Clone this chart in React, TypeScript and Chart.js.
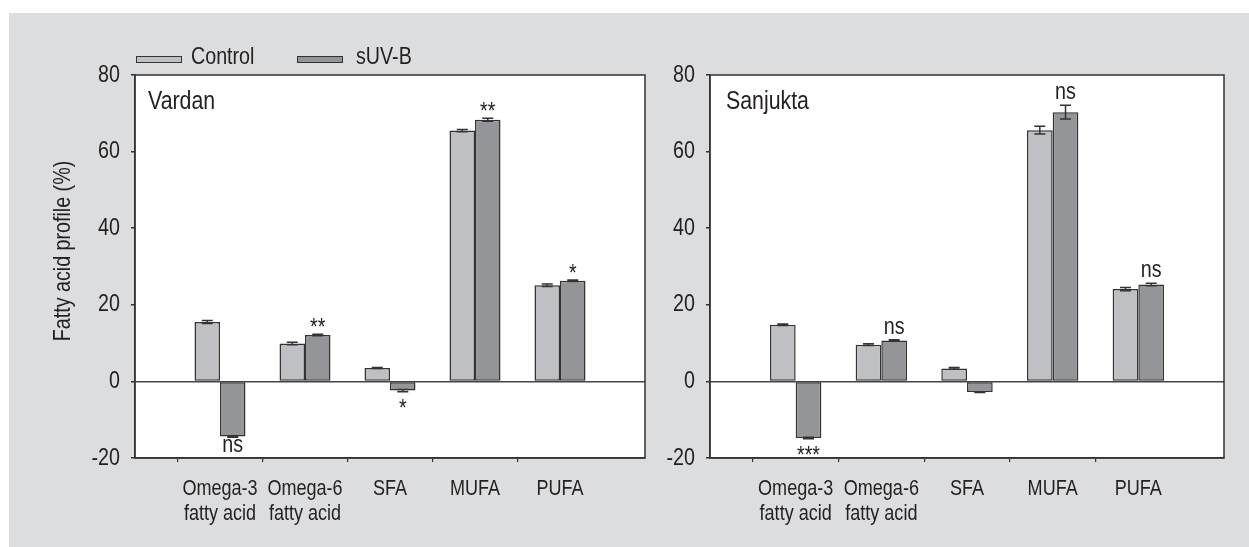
import { useEffect, useRef } from 'react';
import { Chart, registerables } from 'chart.js';

Chart.register(...registerables);

// Fatty acid classes on the x axis (first and last slots are empty padding slots)
const categories: (string | string[])[] = [
  ['Omega-3', 'fatty acid'],
  ['Omega-6', 'fatty acid'],
  'SFA',
  'MUFA',
  'PUFA',
];
const seriesNames = ['Control', 'sUV-B'];
const yTickValues = [-20, 0, 20, 40, 60, 80];
const yAxisTitle = 'Fatty acid profile (%)';

// Vardan
const vardanControl = [15.5, 9.9, 3.5, 65.5, 25.1];
const vardanControlErr = [0.4, 0.3, 0.1, 0.3, 0.3];
const vardanSuvb = [-14.4, 12.1, -2.4, 68.3, 26.3];
const vardanSuvbErr = [0.2, 0.2, 0.3, 0.4, 0.2];
const vardanMarks = ['ns', '**', '*', '**', '*'];
const vardanMarkSide = ['below', 'above', 'below', 'above', 'above'];

// Sanjukta
const sanjuktaControl = [14.8, 9.6, 3.4, 65.6, 24.1];
const sanjuktaControlErr = [0.2, 0.2, 0.2, 1.0, 0.4];
const sanjuktaSuvb = [-14.8, 10.7, -2.8, 70.3, 25.3];
const sanjuktaSuvbErr = [0.2, 0.2, 0.1, 1.8, 0.3];
const sanjuktaMarks = ['***', 'ns', '', 'ns', 'ns'];
const sanjuktaMarkSide = ['below', 'above', 'above', 'above', 'above'];

const FONT = "'Liberation Sans', Arial, Helvetica, sans-serif";
const CONDENSE = 0.82; // narrow lettering, like a condensed Helvetica
const INK = '#231f20';
const LINE = '#333333';
const CONTROL_FILL = '#bfc0c3';
const SUVB_FILL = '#939598';
const PANEL_BG = '#dcdddf';

type PanelSpec = {
  name: string;
  control: number[];
  controlErr: number[];
  suvb: number[];
  suvbErr: number[];
  marks: string[];
  markSide: string[];
  axisWidth: number;
  padRight: number;
  nameOffset: number;
  withLegend: boolean;
};

function pad<T>(arr: T[]): (T | null)[] {
  return [null, ...arr, null];
}

// Squeeze every text run horizontally so the whole figure uses narrow type.
const condensedText = {
  id: 'condensedText',
  beforeInit(chart: any) {
    const ctx = chart.ctx;
    if (!ctx || ctx.__condensed) return;
    const original = ctx.fillText.bind(ctx);
    ctx.fillText = (text: string, x: number, y: number, maxWidth?: number) => {
      const w = ctx.measureText(text).width * CONDENSE;
      const limit = maxWidth === undefined ? w : Math.min(maxWidth, w);
      if (limit > 0) original(text, x, y, limit);
    };
    ctx.__condensed = true;
  },
};

function makePanelPlugin(spec: PanelSpec) {
  return {
    id: 'panelDecor',
    beforeDraw(chart: any) {
      const { ctx, chartArea } = chart;
      ctx.save();
      ctx.fillStyle = '#ffffff';
      ctx.fillRect(chartArea.left, chartArea.top, chartArea.right - chartArea.left, chartArea.bottom - chartArea.top);
      ctx.restore();
    },
    afterDatasetsDraw(chart: any) {
      const { ctx, chartArea } = chart;
      const yScale = chart.scales.y;
      const errs = [spec.controlErr, spec.suvbErr];
      const vals = [spec.control, spec.suvb];

      // error bars
      ctx.save();
      ctx.strokeStyle = LINE;
      ctx.lineWidth = 1.5;
      for (let d = 0; d < 2; d++) {
        const meta = chart.getDatasetMeta(d);
        for (let i = 0; i < vals[d].length; i++) {
          const bar = meta.data[i + 1];
          const v = vals[d][i];
          const e = errs[d][i];
          const y1 = yScale.getPixelForValue(v - e);
          const y2 = yScale.getPixelForValue(v + e);
          const half = 5.5;
          ctx.beginPath();
          ctx.moveTo(bar.x, y1);
          ctx.lineTo(bar.x, y2);
          ctx.moveTo(bar.x - half, y1);
          ctx.lineTo(bar.x + half, y1);
          ctx.moveTo(bar.x - half, y2);
          ctx.lineTo(bar.x + half, y2);
          ctx.stroke();
        }
      }
      ctx.restore();

      // significance marks on the sUV-B bars
      ctx.save();
      ctx.fillStyle = INK;
      ctx.textAlign = 'center';
      ctx.textBaseline = 'alphabetic';
      ctx.font = `24px ${FONT}`;
      const meta = chart.getDatasetMeta(1);
      spec.marks.forEach((mark, i) => {
        if (!mark) return;
        const bar = meta.data[i + 1];
        const v = spec.suvb[i];
        const e = spec.suvbErr[i];
        const isStar = mark.includes('*');
        let y: number;
        if (spec.markSide[i] === 'above') {
          y = yScale.getPixelForValue(Math.max(v, 0) + e) + (isStar ? 1 : -6);
        } else {
          y = yScale.getPixelForValue(Math.min(v, 0) - e) + (isStar ? 24 : 15);
        }
        ctx.fillText(mark, bar.x, y);
      });
      ctx.restore();

      // plot frame
      ctx.save();
      ctx.strokeStyle = LINE;
      ctx.lineWidth = 1.5;
      ctx.strokeRect(chartArea.left, chartArea.top, chartArea.right - chartArea.left, chartArea.bottom - chartArea.top);
      ctx.restore();

      // panel name
      ctx.save();
      ctx.fillStyle = INK;
      ctx.font = `26px ${FONT}`;
      ctx.textAlign = 'left';
      ctx.textBaseline = 'alphabetic';
      ctx.fillText(spec.name, chartArea.left + spec.nameOffset, chartArea.top + 34);
      ctx.restore();
    },
    afterDraw(chart: any) {
      if (!spec.withLegend) return;
      const { ctx, chartArea } = chart;
      ctx.save();
      // legend
      const fills = [CONTROL_FILL, SUVB_FILL];
      const swatchX = [chartArea.left + 1, chartArea.left + 162];
      const textX = [chartArea.left + 56, chartArea.left + 221];
      ctx.font = `24px ${FONT}`;
      ctx.textBaseline = 'alphabetic';
      ctx.textAlign = 'left';
      seriesNames.forEach((name, k) => {
        const x = swatchX[k];
        const y = chartArea.top - 19;
        ctx.fillStyle = fills[k];
        ctx.fillRect(x, y, 46, 6);
        ctx.strokeStyle = LINE;
        ctx.lineWidth = 1;
        ctx.strokeRect(x + 0.5, y + 0.5, 45, 6);
        ctx.fillStyle = INK;
        ctx.fillText(name, textX[k], chartArea.top - 11.5);
      });
      // y axis title
      ctx.translate(54, 238);
      ctx.rotate(-Math.PI / 2);
      ctx.textAlign = 'center';
      ctx.textBaseline = 'middle';
      ctx.font = `24px ${FONT}`;
      ctx.fillText(yAxisTitle, 0, 0);
      ctx.restore();
    },
  };
}

function buildConfig(spec: PanelSpec): any {
  const labels = ['', ...categories, ''];
  const lastIndex = labels.length - 1;
  return {
    type: 'bar',
    data: {
      labels,
      datasets: [
        {
          label: seriesNames[0],
          data: pad(spec.control),
          backgroundColor: CONTROL_FILL,
          borderColor: LINE,
          borderWidth: 1.5,
          borderSkipped: false,
          categoryPercentage: 0.6,
          barPercentage: 1.0,
        },
        {
          label: seriesNames[1],
          data: pad(spec.suvb),
          backgroundColor: SUVB_FILL,
          borderColor: LINE,
          borderWidth: 1.5,
          borderSkipped: false,
          categoryPercentage: 0.6,
          barPercentage: 1.0,
        },
      ],
    },
    options: {
      responsive: false,
      maintainAspectRatio: false,
      animation: false,
      layout: { padding: { top: 62, right: spec.padRight, bottom: 0, left: 0 } },
      plugins: {
        legend: { display: false },
        tooltip: { enabled: false },
      },
      scales: {
        x: {
          offset: false,
          grid: {
            display: true,
            drawOnChartArea: false,
            drawTicks: true,
            tickLength: 4,
            lineWidth: 1.2,
            tickColor: (c: any) => (c.index === 0 || c.index === lastIndex ? 'rgba(0,0,0,0)' : LINE),
          },
          border: { display: true, color: LINE, width: 1.5 },
          ticks: {
            autoSkip: false,
            maxRotation: 0,
            minRotation: 0,
            padding: 15,
            color: INK,
            font: { family: FONT, size: 22, lineHeight: 1.12 },
          },
          afterFit: (s: any) => {
            s.height = 89;
          },
        },
        y: {
          min: yTickValues[0],
          max: yTickValues[yTickValues.length - 1],
          afterBuildTicks: (s: any) => {
            s.ticks = yTickValues.map((v) => ({ value: v }));
          },
          ticks: {
            padding: 11,
            color: INK,
            font: { family: FONT, size: 24 },
          },
          grid: {
            drawOnChartArea: true,
            drawTicks: true,
            tickLength: 4,
            lineWidth: 1.5,
            color: (c: any) => (c.tick && c.tick.value === 0 ? '#444444' : 'rgba(0,0,0,0)'),
            tickColor: LINE,
          },
          border: { display: true, color: LINE, width: 1.5 },
          afterFit: (s: any) => {
            s.width = spec.axisWidth;
          },
        },
      },
    },
    plugins: [condensedText, makePanelPlugin(spec)],
  };
}

const vardanSpec: PanelSpec = {
  name: 'Vardan',
  control: vardanControl,
  controlErr: vardanControlErr,
  suvb: vardanSuvb,
  suvbErr: vardanSuvbErr,
  marks: vardanMarks,
  markSide: vardanMarkSide,
  axisWidth: 126,
  padRight: 10,
  nameOffset: 13,
  withLegend: true,
};

const sanjuktaSpec: PanelSpec = {
  name: 'Sanjukta',
  control: sanjuktaControl,
  controlErr: sanjuktaControlErr,
  suvb: sanjuktaSuvb,
  suvbErr: sanjuktaSuvbErr,
  marks: sanjuktaMarks,
  markSide: sanjuktaMarkSide,
  axisWidth: 50,
  padRight: 25,
  nameOffset: 16,
  withLegend: false,
};

function Panel({ spec, left, width }: { spec: PanelSpec; left: number; width: number }) {
  const ref = useRef<HTMLCanvasElement | null>(null);
  useEffect(() => {
    if (!ref.current) return;
    const chart = new Chart(ref.current, buildConfig(spec));
    return () => chart.destroy();
  }, [spec]);
  return (
    <canvas
      ref={ref}
      width={width}
      height={534}
      style={{ position: 'absolute', left, top: 13, width, height: 534 }}
    />
  );
}

export default function App() {
  return (
    <div style={{ position: 'fixed', left: 0, top: 0, width: 1249, height: 547, background: '#ffffff', overflow: 'hidden' }}>
      <div style={{ position: 'absolute', left: 9, top: 13, right: 0, bottom: 0, background: PANEL_BG }} />
      <Panel spec={vardanSpec} left={9} width={651} />
      <Panel spec={sanjuktaSpec} left={660} width={589} />
    </div>
  );
}
